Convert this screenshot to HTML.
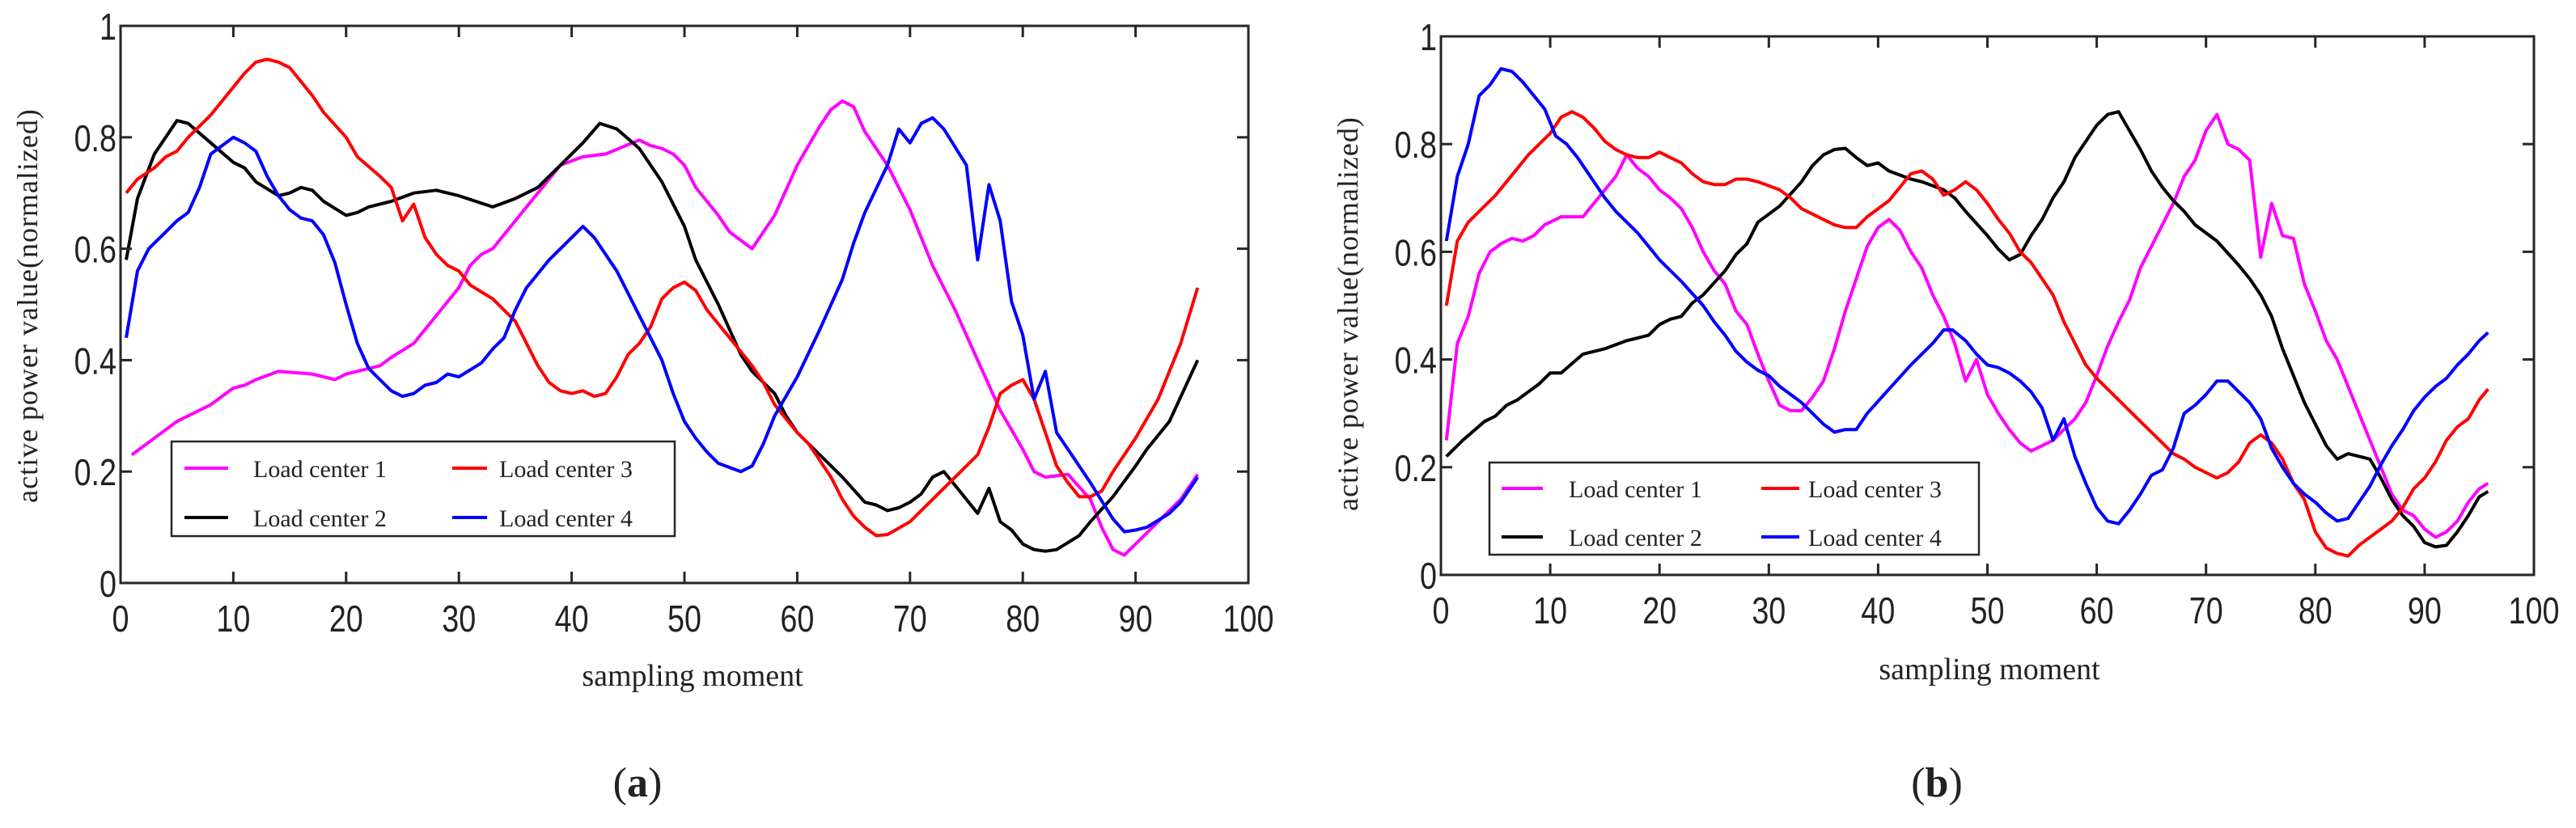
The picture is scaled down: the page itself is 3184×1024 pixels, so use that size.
<!DOCTYPE html>
<html><head><meta charset="utf-8"><style>
html,body{margin:0;padding:0;background:#fff;}
svg{display:block;}
.tick{font-family:"Liberation Sans",sans-serif;font-size:46px;fill:#222;}
.ser{font-family:"Liberation Serif",serif;fill:#222;}
</style></head><body>
<svg id="fig" width="3184" height="1024" viewBox="0 0 3184 1024" xmlns="http://www.w3.org/2000/svg"></svg>
<script>
// ---- data: panel (a) ----
const xTicks=[0,10,20,30,40,50,60,70,80,90,100];
const yTicks=[0,0.2,0.4,0.6,0.8,1];
const yTickLabels=["0","0.2","0.4","0.6","0.8","1"];
const seriesNames=["Load center 1","Load center 2","Load center 3","Load center 4"];
const a1=[[1,0.23],[5,0.29],[8,0.32],[10,0.35],[11,0.355],[12,0.365],[14,0.38],[17,0.375],[19,0.365],[20,0.375],[23,0.39],[24,0.405],[26,0.43],[28,0.48],[30,0.53],[31,0.57],[32,0.59],[33,0.60],[35,0.65],[37,0.70],[39,0.75],[41,0.765],[43,0.77],[46,0.795],[47,0.785],[48,0.78],[49,0.77],[50,0.75],[51,0.71],[53,0.66],[54,0.63],[56,0.60],[58,0.66],[60,0.75],[62,0.82],[63,0.85],[64,0.865],[65,0.855],[66,0.81],[68,0.75],[70,0.67],[72,0.57],[74,0.49],[76,0.40],[78,0.31],[80,0.24],[81,0.20],[82,0.19],[84,0.195],[86,0.15],[87,0.10],[88,0.06],[89,0.05],[90,0.07],[92,0.11],[94,0.15],[95.5,0.195]];
const a2=[[0.5,0.58],[1.5,0.69],[3,0.77],[5,0.83],[6,0.825],[8,0.79],[10,0.755],[11,0.745],[12,0.72],[14,0.695],[15,0.70],[16,0.71],[17,0.705],[18,0.685],[20,0.66],[21,0.665],[22,0.675],[24,0.685],[26,0.70],[28,0.705],[30,0.695],[33,0.675],[35,0.69],[37,0.71],[39,0.75],[41,0.79],[42.5,0.825],[44,0.815],[46,0.78],[48,0.72],[50,0.64],[51,0.58],[53,0.50],[55,0.41],[56,0.38],[58,0.34],[59,0.30],[60,0.27],[62,0.23],[64,0.19],[66,0.145],[67,0.14],[68,0.13],[69,0.135],[70,0.145],[71,0.16],[72,0.19],[73,0.20],[74,0.175],[75,0.15],[76,0.125],[77,0.17],[78,0.11],[79,0.095],[80,0.07],[81,0.06],[82,0.057],[83,0.06],[85,0.085],[86,0.11],[88,0.155],[90,0.21],[91,0.24],[93,0.29],[95.5,0.40]];
const a3=[[0.5,0.70],[1.5,0.725],[3,0.745],[4,0.765],[5,0.775],[6,0.80],[8,0.84],[10,0.89],[11,0.915],[12,0.935],[13,0.94],[14,0.935],[15,0.925],[16,0.90],[17,0.875],[18,0.845],[20,0.80],[21,0.765],[23,0.73],[24,0.71],[25,0.65],[26,0.68],[27,0.62],[28,0.59],[29,0.57],[30,0.56],[31,0.535],[33,0.51],[35,0.47],[36,0.43],[37,0.39],[38,0.36],[39,0.345],[40,0.34],[41,0.345],[42,0.335],[43,0.34],[44,0.37],[45,0.41],[46,0.43],[47,0.46],[48,0.51],[49,0.53],[50,0.54],[51,0.525],[52,0.49],[54,0.44],[56,0.39],[57,0.36],[58,0.32],[60,0.27],[61,0.25],[62,0.22],[63,0.19],[64,0.15],[65,0.12],[66,0.10],[67,0.085],[68,0.087],[70,0.11],[72,0.15],[74,0.19],[76,0.23],[77,0.28],[78,0.34],[79,0.355],[80,0.365],[81,0.33],[82,0.27],[83,0.21],[84,0.18],[85,0.155],[86,0.155],[87,0.165],[88,0.20],[90,0.26],[92,0.33],[94,0.43],[95.5,0.53]];
const a4=[[0.5,0.44],[1.5,0.56],[2.5,0.60],[4,0.63],[5,0.65],[6,0.665],[7,0.71],[8,0.77],[9,0.785],[10,0.80],[11,0.79],[12,0.775],[13,0.73],[14,0.695],[15,0.67],[16,0.655],[17,0.65],[18,0.625],[19,0.575],[20,0.50],[21,0.43],[22,0.385],[23,0.365],[24,0.345],[25,0.335],[26,0.34],[27,0.355],[28,0.36],[29,0.375],[30,0.37],[32,0.395],[33,0.42],[34,0.44],[35,0.49],[36,0.53],[37,0.555],[38,0.58],[40,0.62],[41,0.64],[42,0.62],[44,0.56],[45,0.52],[46,0.48],[47,0.44],[48,0.40],[49,0.34],[50,0.29],[51,0.26],[52,0.235],[53,0.215],[55,0.20],[56,0.21],[57,0.25],[58,0.30],[60,0.37],[62,0.455],[64,0.545],[65,0.61],[66,0.665],[68,0.75],[69,0.815],[70,0.79],[71,0.825],[72,0.835],[73,0.815],[75,0.75],[76,0.58],[77,0.715],[78,0.65],[79,0.505],[80,0.445],[81,0.33],[82,0.38],[83,0.27],[84,0.24],[86,0.18],[88,0.115],[89,0.092],[90,0.095],[91,0.10],[93,0.125],[94,0.145],[95.5,0.19]];
// ---- data: panel (b) ----
const b1=[[0.5,0.25],[1.5,0.43],[2.5,0.48],[3.5,0.56],[4.5,0.60],[5.5,0.615],[6.5,0.625],[7.5,0.62],[8.5,0.63],[9.5,0.65],[11,0.665],[13,0.665],[14,0.69],[16,0.74],[17,0.78],[18,0.755],[19,0.74],[20,0.715],[21,0.70],[22,0.68],[23,0.645],[24,0.60],[25,0.565],[26,0.54],[27,0.49],[28,0.465],[29,0.41],[30,0.36],[31,0.315],[32,0.305],[33,0.305],[34,0.33],[35,0.36],[36,0.42],[37,0.49],[38,0.55],[39,0.61],[40,0.645],[41,0.66],[42,0.64],[43,0.60],[44,0.57],[45,0.52],[46,0.48],[47,0.43],[48,0.36],[49,0.40],[50,0.335],[51,0.30],[52,0.27],[53,0.245],[54,0.23],[55,0.24],[56,0.25],[57,0.27],[58,0.29],[59,0.32],[60,0.37],[61,0.425],[62,0.47],[63,0.51],[64,0.57],[65,0.61],[66,0.65],[67,0.69],[68,0.74],[69,0.77],[70,0.825],[71,0.855],[72,0.80],[73,0.79],[74,0.77],[75,0.59],[76,0.69],[77,0.63],[78,0.625],[79,0.54],[80,0.49],[81,0.435],[82,0.40],[83,0.35],[84,0.30],[85,0.25],[86,0.20],[87,0.15],[88,0.12],[89,0.11],[90,0.085],[91,0.07],[92,0.08],[93,0.10],[94,0.135],[95,0.16],[95.8,0.17]];
const b2=[[0.5,0.22],[2,0.25],[4,0.285],[5,0.295],[6,0.315],[7,0.325],[9,0.355],[10,0.375],[11,0.375],[13,0.41],[15,0.42],[17,0.435],[19,0.445],[20,0.465],[21,0.475],[22,0.48],[23,0.505],[24,0.52],[26,0.565],[27,0.595],[28,0.615],[29,0.655],[31,0.685],[33,0.73],[34,0.76],[35,0.78],[36,0.79],[37,0.792],[38,0.775],[39,0.76],[40,0.765],[41,0.75],[43,0.735],[44,0.73],[46,0.715],[47,0.70],[48,0.675],[50,0.63],[51,0.605],[52,0.585],[53,0.595],[54,0.63],[55,0.66],[56,0.70],[57,0.73],[58,0.775],[59,0.805],[60,0.835],[61,0.855],[62,0.86],[63,0.825],[64,0.79],[65,0.75],[66,0.72],[67,0.695],[68,0.675],[69,0.65],[70,0.635],[71,0.62],[73,0.575],[74,0.55],[75,0.52],[76,0.48],[77,0.42],[78,0.37],[79,0.32],[80,0.28],[81,0.24],[82,0.215],[83,0.225],[85,0.215],[86,0.18],[87,0.14],[88,0.11],[89,0.09],[90,0.06],[91,0.052],[92,0.055],[93,0.08],[94,0.11],[95,0.145],[95.8,0.155]];
const b3=[[0.5,0.50],[1.5,0.62],[2.5,0.655],[4,0.685],[5,0.705],[6,0.73],[7,0.755],[8,0.78],[9,0.80],[10,0.82],[11,0.85],[12,0.86],[13,0.85],[14,0.83],[15,0.805],[16,0.79],[17,0.78],[18,0.775],[19,0.775],[20,0.785],[21,0.775],[22,0.765],[23,0.745],[24,0.73],[25,0.725],[26,0.725],[27,0.735],[28,0.735],[29,0.73],[31,0.715],[32,0.70],[33,0.68],[35,0.66],[36,0.65],[37,0.645],[38,0.645],[39,0.665],[40,0.68],[41,0.695],[42,0.72],[43,0.745],[44,0.75],[45,0.735],[46,0.705],[47,0.715],[48,0.73],[49,0.715],[50,0.69],[51,0.66],[52,0.635],[53,0.60],[54,0.58],[55,0.55],[56,0.52],[57,0.47],[58,0.43],[59,0.39],[60,0.365],[61,0.345],[62,0.325],[63,0.305],[64,0.285],[65,0.265],[66,0.245],[67,0.225],[68,0.215],[69,0.20],[70,0.19],[71,0.18],[72,0.19],[73,0.21],[74,0.245],[75,0.26],[76,0.245],[77,0.215],[78,0.17],[79,0.14],[80,0.08],[81,0.05],[82,0.04],[83,0.035],[84,0.055],[85,0.07],[86,0.085],[87,0.10],[88,0.125],[89,0.16],[90,0.18],[91,0.21],[92,0.25],[93,0.275],[94,0.29],[95,0.325],[95.8,0.345]];
const b4=[[0.5,0.62],[1.5,0.74],[2.5,0.80],[3.5,0.89],[4.5,0.91],[5.5,0.94],[6.5,0.935],[7.5,0.915],[8.5,0.89],[9.5,0.865],[10.5,0.815],[11.5,0.80],[12.5,0.775],[14,0.73],[15,0.70],[16,0.675],[18,0.635],[20,0.585],[22,0.545],[24,0.50],[25,0.47],[26,0.445],[27,0.415],[28,0.395],[29,0.38],[30,0.37],[31,0.35],[32,0.335],[33,0.32],[34,0.30],[35,0.28],[36,0.265],[37,0.27],[38,0.27],[39,0.30],[41,0.345],[43,0.39],[44,0.41],[45,0.43],[46,0.455],[46.8,0.455],[48,0.435],[49,0.41],[50,0.39],[51,0.385],[52,0.375],[53,0.36],[54,0.34],[55,0.31],[56,0.25],[57,0.29],[58,0.22],[59,0.17],[60,0.125],[61,0.10],[62,0.095],[63,0.12],[64,0.15],[65,0.185],[66,0.195],[67,0.235],[68,0.30],[69,0.315],[70,0.335],[71,0.36],[72,0.36],[73,0.34],[74,0.32],[75,0.29],[76,0.235],[77,0.20],[78,0.17],[79,0.15],[80,0.135],[81,0.115],[82,0.10],[83,0.105],[84,0.135],[85,0.165],[86,0.205],[87,0.24],[88,0.27],[89,0.305],[90,0.33],[91,0.35],[92,0.365],[93,0.39],[94,0.41],[95,0.435],[95.8,0.45]];

const colors=["#ff00ff","#000000","#ff0000","#0000ff"];
const NS="http://www.w3.org/2000/svg";
const svg=document.getElementById('fig');
function el(tag,attrs,parent){const e=document.createElementNS(NS,tag);for(const k in attrs)e.setAttribute(k,attrs[k]);(parent||svg).appendChild(e);return e;}

const panels=[
 {id:'a',L:149,R:1543,T:32,B:721,series:[a1,a2,a3,a4],
  leg:{x:212,y:546,w:622,h:117,r1:579,r2:640,l1:[228,282],t1:313,l2:[559,602],t2:617},
  ylab:[34,378],xlab:[856,848],cap:[788,985]},
 {id:'b',L:1781,R:3132,T:45,B:711,series:[b1,b2,b3,b4],
  leg:{x:1841,y:572,w:605,h:114,r1:604,r2:664,l1:[1856,1907],t1:1939,l2:[2177,2224],t2:2235},
  ylab:[1666,388],xlab:[2459,840],cap:[2394,985]}
];
panels.forEach(p=>{
  const g=el('g',{});
  
  
  const sx=v=>p.L+(v-0)/(100-0)*(p.R-p.L);
  const sy=v=>p.B-(v-0)/(1-0)*(p.B-p.T);
  p.series.forEach((s,i)=>{
    const d=s.map((pt,j)=>(j?'L':'M')+sx(pt[0]).toFixed(1)+' '+sy(pt[1]).toFixed(1)).join(' ');
    const path=el('path',{d:d,fill:'none',stroke:colors[i],'stroke-width':4,'stroke-linejoin':'round'},g);
    
    
  });
  const fr=el('rect',{x:p.L,y:p.T,width:p.R-p.L,height:p.B-p.T,fill:'none',stroke:'#262626','stroke-width':3},g);
  
  
  xTicks.forEach(t=>{
    const x=sx(t);
    el('line',{x1:x,y1:p.B,x2:x,y2:p.B-14,stroke:'#262626','stroke-width':3},g);
    el('line',{x1:x,y1:p.T,x2:x,y2:p.T+14,stroke:'#262626','stroke-width':3},g);
    const tx=el('text',{x:0,y:0,'text-anchor':'middle',class:'tick',transform:`translate(${x},${p.B+60}) scale(0.82,1)`},g);
    tx.textContent=t;
    
    
  });
  yTicks.forEach((t,i)=>{
    const y=sy(t);
    el('line',{x1:p.L,y1:y,x2:p.L+14,y2:y,stroke:'#262626','stroke-width':3},g);
    el('line',{x1:p.R,y1:y,x2:p.R-14,y2:y,stroke:'#262626','stroke-width':3},g);
    const ty=el('text',{x:0,y:0,'text-anchor':'end',class:'tick',transform:`translate(${p.L-5},${y+17}) scale(0.82,1)`},g);
    ty.textContent=yTickLabels[i];
    
    
  });
  const yl=el('text',{x:0,y:0,'text-anchor':'middle',class:'ser','font-size':36,'letter-spacing':1,transform:`translate(${p.ylab[0]+12},${p.ylab[1]}) rotate(-90)`},g);
  yl.textContent='active power value(normalized)';
  
  
  const xl=el('text',{x:p.xlab[0],y:p.xlab[1],'text-anchor':'middle',class:'ser','font-size':38},g);
  xl.textContent='sampling moment';
  
  
  const cap=el('text',{x:p.cap[0],y:p.cap[1],'text-anchor':'middle',class:'ser','font-size':52},g);
  cap.innerHTML='(<tspan font-weight="bold">'+p.id+'</tspan>)';
  
  
  const L=p.leg;
  const lg=el('g',{},g);
  
  
  el('rect',{x:L.x,y:L.y,width:L.w,height:L.h,fill:'#fff',stroke:'#262626','stroke-width':2.5},lg);
  const pos=[[L.l1,L.t1,L.r1],[L.l1,L.t1,L.r2],[L.l2,L.t2,L.r1],[L.l2,L.t2,L.r2]];
  seriesNames.forEach((n,i)=>{
    const [ln,tx,ry]=pos[i];
    const e=el('g',{},lg);
    
    
    el('line',{x1:ln[0],y1:ry,x2:ln[1],y2:ry,stroke:colors[i],'stroke-width':4},e);
    const t=el('text',{x:tx,y:ry+11,class:'ser','font-size':30},e);
    t.textContent=n;
  });
});
</script>
</body></html>
